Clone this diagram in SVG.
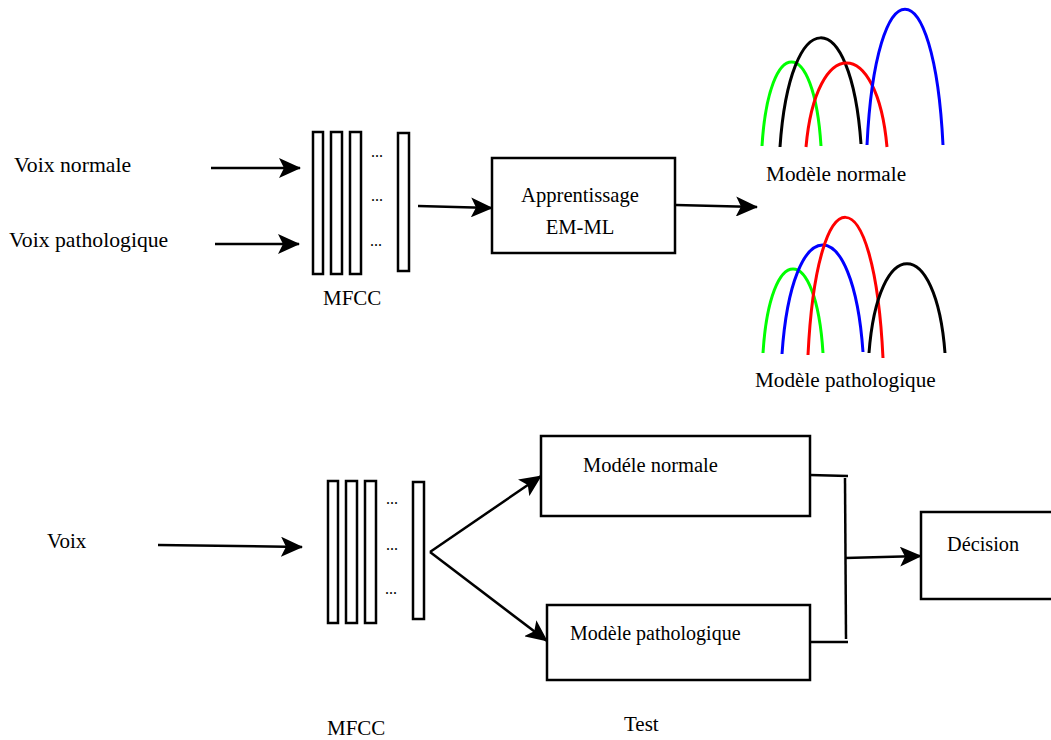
<svg xmlns="http://www.w3.org/2000/svg" width="1051" height="740" viewBox="0 0 1051 740">
<style>
text{font-family:"Liberation Serif","Times New Roman",serif;font-size:21px;fill:#000}
.dots{font-size:16px}
.big{font-size:21.7px}
.sm{font-size:20.3px}
.bar,.box{fill:#fff;stroke:#000;stroke-width:2.5}
.ln{fill:none;stroke:#000;stroke-width:2.5}
.arr{fill:none;stroke:#000;stroke-width:2.5;marker-end:url(#ah)}
.cv{fill:none;stroke-width:3;stroke-linecap:butt}
</style>
<defs>
<marker id="ah" viewBox="0 0 22 20" refX="21" refY="10" markerWidth="22" markerHeight="20" markerUnits="userSpaceOnUse" orient="auto">
<path d="M0,0 L22,10 L0,20 L5,10 Z" fill="#000"/>
</marker>
</defs>
<rect width="1051" height="740" fill="#fff"/>

<g id="label-voix-normale"><text class="big" x="14" y="172">Voix normale</text></g>
<g id="label-voix-pathologique"><text class="big" x="9" y="247">Voix pathologique</text></g>

<g id="mfcc-top">
<rect class="bar" x="313" y="132" width="10" height="142"/>
<rect class="bar" x="331" y="132" width="11" height="142"/>
<rect class="bar" x="350" y="132" width="11" height="142"/>
<rect class="bar" x="398" y="133" width="11" height="138"/>
<text class="dots" x="371" y="157">...</text>
<text class="dots" x="371" y="201">...</text>
<text class="dots" x="370" y="246">...</text>
<text x="323" y="305">MFCC</text>
</g>

<g id="apprentissage">
<rect class="box" x="492" y="158" width="183" height="95"/>
<text x="580" y="202" text-anchor="middle" style="font-size:20.6px">Apprentissage</text>
<text x="580" y="234" text-anchor="middle" style="font-size:20.6px">EM-ML</text>
</g>

<g id="modele-normale-top">
<path class="cv" stroke="#00ff00" d="M762,146 C769,34 814,34 821,146"/>
<path class="cv" stroke="#000" d="M780,147 C790,2 851,2 861,144"/>
<path class="cv" stroke="#ff0000" d="M806,147 C816,35 877,35 887,147"/>
<path class="cv" stroke="#0000ff" d="M867,145 C876,-36 934,-36 943,145"/>
<text x="766" y="181" style="font-size:21.3px">Modèle normale</text>
</g>

<g id="modele-pathologique-top">
<path class="cv" stroke="#00ff00" d="M763,353 C770,241 816,241 823,353"/>
<path class="cv" stroke="#0000ff" d="M782,354 C792,209 853,209 863,352"/>
<path class="cv" stroke="#ff0000" d="M808,355 C817,171 874,171 883,358"/>
<path class="cv" stroke="#000" d="M869,353 C878,234 936,234 945,353"/>
<text x="755" y="387" style="font-size:21.2px">Modèle pathologique</text>
</g>

<g id="label-voix"><text x="47" y="548">Voix</text></g>

<g id="mfcc-bottom">
<rect class="bar" x="328" y="481" width="10" height="142"/>
<rect class="bar" x="346" y="481" width="11" height="142"/>
<rect class="bar" x="365" y="481" width="11" height="142"/>
<rect class="bar" x="413" y="482" width="11" height="137"/>
<text class="dots" x="386" y="504">...</text>
<text class="dots" x="386" y="550">...</text>
<text class="dots" x="385" y="594">...</text>
<text x="327" y="735">MFCC</text>
</g>

<g id="test-normale">
<rect class="box" x="541" y="436" width="269" height="80"/>
<text x="583" y="472" style="font-size:20.5px">Modéle normale</text>
</g>

<g id="test-pathologique">
<rect class="box" x="547" y="605" width="263" height="75"/>
<text x="570" y="640" class="sm" style="font-size:20px">Modèle pathologique</text>
</g>

<g id="label-test"><text x="624" y="731">Test</text></g>

<g id="decision">
<rect class="box" x="921" y="512" width="140" height="87"/>
<text x="947" y="551" class="sm">Décision</text>
</g>

<g id="connectors">
<line class="arr" x1="211" y1="168" x2="300" y2="168"/>
<line class="arr" x1="215" y1="244" x2="299" y2="244"/>
<line class="arr" x1="418" y1="206" x2="492" y2="208"/>
<line class="arr" x1="676" y1="205" x2="757" y2="207"/>
<line class="arr" x1="158" y1="545" x2="302" y2="547"/>
<line class="arr" x1="430" y1="552" x2="541" y2="476"/>
<line class="arr" x1="430" y1="552" x2="547" y2="641"/>
<polyline class="ln" points="810,475 848,476"/>
<polyline class="ln" points="810,642 848,642"/>
<line class="ln" x1="845" y1="478" x2="846" y2="639"/>
<line class="arr" x1="845" y1="558" x2="921" y2="556"/>
</g>
</svg>
